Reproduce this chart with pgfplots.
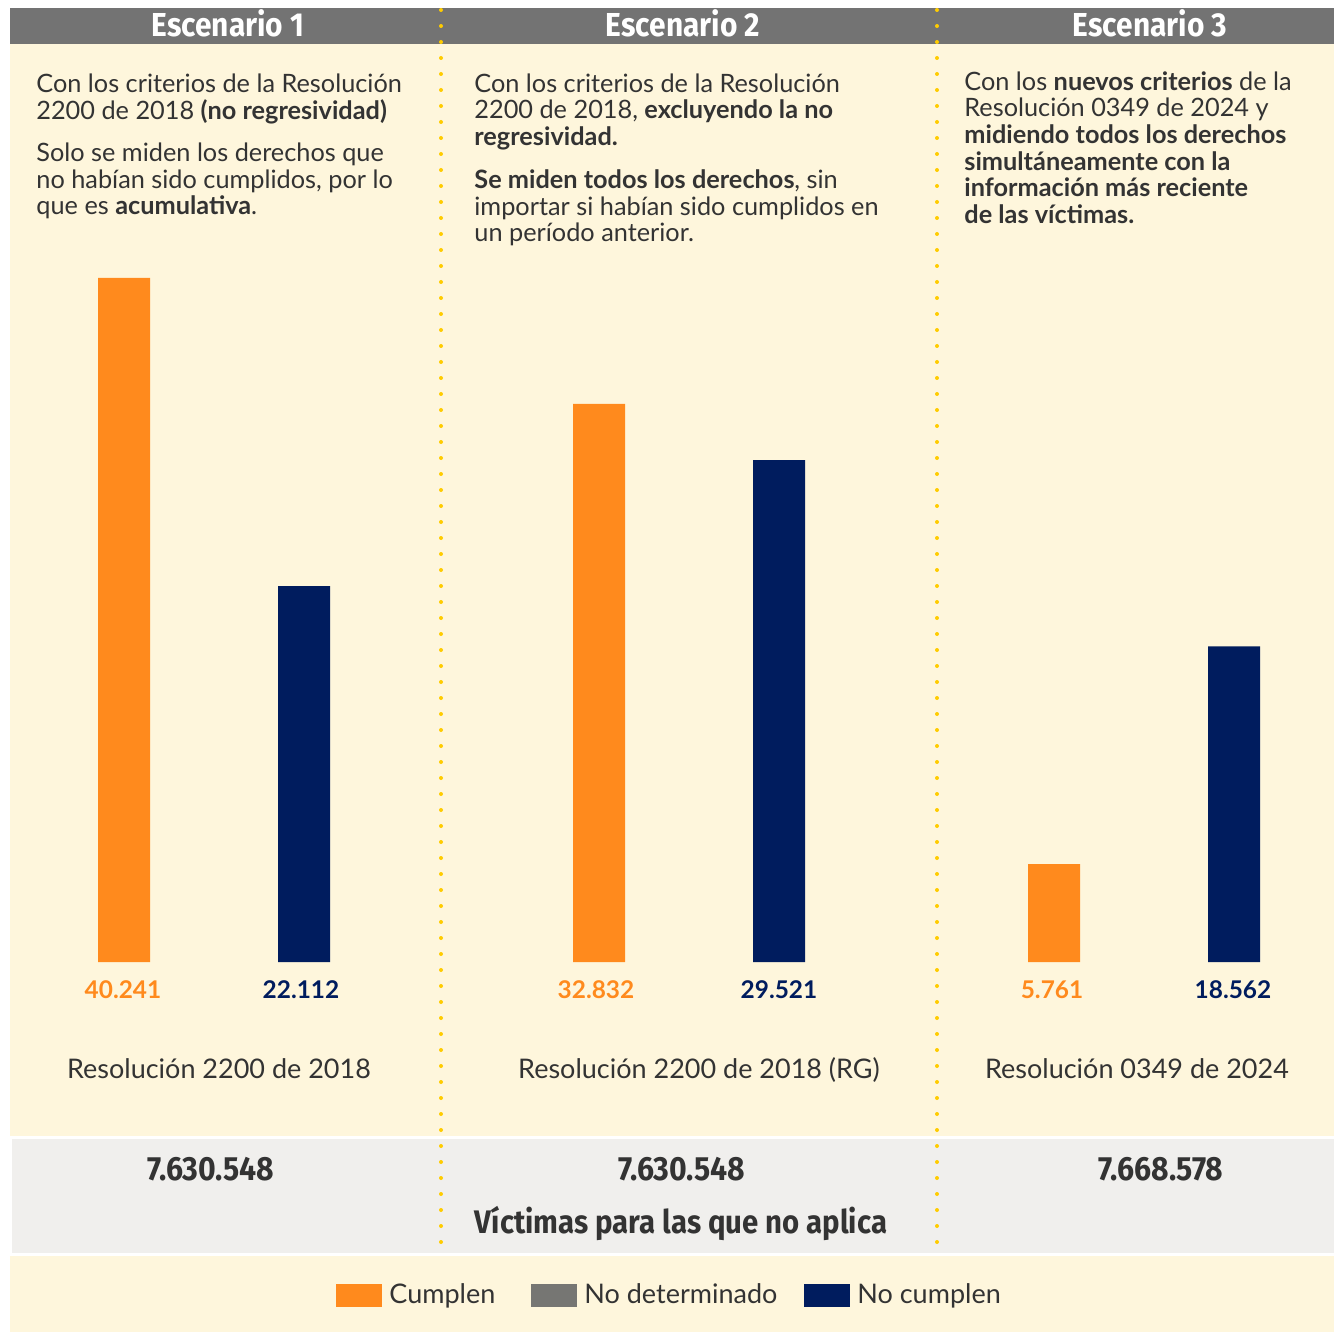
\documentclass[border=0pt]{standalone}
\usepackage{pgfplots}
\pgfplotsset{compat=1.18}
\usepackage{fontspec}
\setmainfont{Lato}
\newfontfamily\cond[FakeStretch=0.9]{Fira Sans}
\definecolor{orangeC}{HTML}{FF8A1D}
\definecolor{navyC}{HTML}{001C5E}
\definecolor{hdr}{HTML}{737373}
\definecolor{cream}{HTML}{FEF6DC}
\definecolor{band}{HTML}{F0EFED}
\definecolor{txt}{HTML}{333333}
\definecolor{dots}{HTML}{FFCC00}
\definecolor{legGray}{HTML}{767673}
\begin{document}
\begin{tikzpicture}
\begin{scope}[x=0.5pt,y=-0.5pt]
\useasboundingbox (0,0) rectangle (1334,1332);
\fill[white] (0,0) rectangle (1334,1332);
\fill[cream] (10,44) rectangle (1334,1136);
\fill[hdr] (10,8) rectangle (1334,44);
\fill[band] (12,1139) rectangle (1334,1253);
\fill[cream] (10,1256) rectangle (1334,1332);
\foreach \xx in {441,937}{
  \draw[dots, line width=2pt, line cap=round, dash pattern=on 0pt off 8pt] (\xx,10) -- (\xx,1252);
}
% headers
\foreach \xx/\t in {228/Escenario 1,683/Escenario 2,1150/Escenario 3}{
  \node[anchor=base, white, inner sep=0, font=\cond\bfseries\fontsize{16.6}{17}\selectfont] at (\xx,37) {\t};
}
% body text
\begin{scope}[every node/.style={anchor=base west, inner sep=0, text=txt, font=\fontsize{12.65}{14}\selectfont}]
\node at (36,93) {Con los criterios de la Resolución};
\node at (36,120) {2200 de 2018 \textbf{(no regresividad)}};
\node at (36,162) {Solo se miden los derechos que};
\node at (36,189) {no habían sido cumplidos, por lo};
\node at (36,215) {que es \textbf{acumulativa}.};
\node at (474,93) {Con los criterios de la Resolución};
\node at (474,119) {2200 de 2018, \textbf{excluyendo la no}};
\node at (474,146) {\textbf{regresividad.}};
\node at (474,189) {\textbf{Se miden todos los derechos}, sin};
\node at (474,216) {importar si habían sido cumplidos en};
\node at (474,242) {un período anterior.};
\node at (964,91) {Con los \textbf{nuevos criterios} de la};
\node at (964,117) {Resolución 0349 de 2024 y};
\node at (964,144) {\textbf{midiendo todos los derechos}};
\node at (964,171) {\textbf{simultáneamente con la}};
\node at (964,197) {\textbf{información más reciente}};
\node at (964,224) {\textbf{de las víctimas.}};
\end{scope}
% value labels
\begin{scope}[every node/.style={anchor=base, inner sep=0, font=\bfseries\fontsize{12.2}{13}\selectfont}]
\node[text=orangeC] at (123,998) {40.241};
\node[text=navyC] at (301,998) {22.112};
\node[text=orangeC] at (596,998) {32.832};
\node[text=navyC] at (779,998) {29.521};
\node[text=orangeC] at (1052,998) {5.761};
\node[text=navyC] at (1233,998) {18.562};
\end{scope}
% category labels
\begin{scope}[every node/.style={anchor=base, inner sep=0, text=txt, font=\fontsize{13.5}{14}\selectfont}]
\node at (219,1078) {Resolución 2200 de 2018};
\node at (699,1078) {Resolución 2200 de 2018 (RG)};
\node at (1137,1078) {Resolución 0349 de 2024};
\end{scope}
% band numbers
\begin{scope}[every node/.style={anchor=base, inner sep=0, text=txt, font=\cond\bfseries\fontsize{16.8}{17}\selectfont}]
\node at (211,1180) {7.630.548};
\node at (682,1180) {7.630.548};
\node at (1161,1180) {7.668.578};
\node[font=\cond\bfseries\fontsize{16.3}{17}\selectfont] at (681,1233) {Víctimas para las que no aplica};
\end{scope}
% legend
\fill[orangeC] (336,1284) rectangle (382,1307);
\fill[legGray] (531,1284) rectangle (577,1307);
\fill[navyC] (804,1284) rectangle (850,1307);
\begin{scope}[every node/.style={anchor=base west, inner sep=0, text=txt, font=\fontsize{13.5}{14}\selectfont}]
\node at (389,1303) {Cumplen};
\node at (584,1303) {No determinado};
\node at (857,1303) {No cumplen};
\end{scope}
\end{scope}
\begin{axis}[at={(0pt,-481pt)}, anchor=south west, scale only axis,
  width=667pt, height=342pt, xmin=0, xmax=1334, ymin=0, ymax=40241,
  axis lines=none, clip=false, ybar, bar width=26pt]
\addplot[fill=orangeC, draw=none, bar shift=0pt] coordinates {(124,40241) (599,32832) (1054,5761)};
\addplot[fill=navyC, draw=none, bar shift=0pt] coordinates {(304,22112) (779,29521) (1234,18562)};
\end{axis}
\end{tikzpicture}
\end{document}
